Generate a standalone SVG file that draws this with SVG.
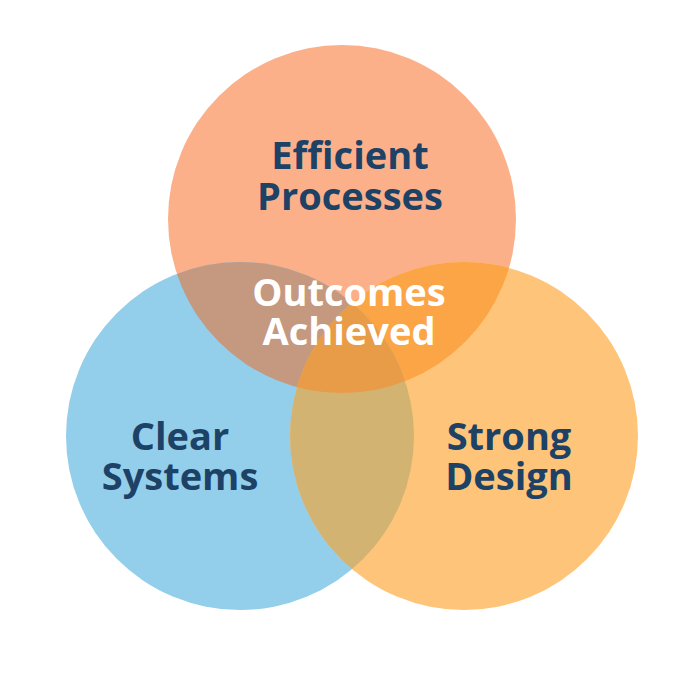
<svg xmlns="http://www.w3.org/2000/svg" width="700" height="700" viewBox="0 0 700 700">
<style>
.lbl{font-family:"Open Sans","Noto Sans","Liberation Sans",sans-serif;font-weight:700;font-size:38px;text-anchor:middle;fill:#1D4266}
.ctr{fill:#FFFFFF}
</style>
<defs>
<clipPath id="clipA"><circle cx="342" cy="219" r="174"/></clipPath>
<clipPath id="clipB"><circle cx="240" cy="436" r="174"/></clipPath>
<clipPath id="clipC"><circle cx="464" cy="436" r="174"/></clipPath>
</defs>
<rect width="700" height="700" fill="#FFFFFF"/>
<g id="circles">
<circle id="circle-efficient" cx="342" cy="219" r="174" fill="#FCB08A"/>
<circle id="circle-clear" cx="240" cy="436" r="174" fill="#93CFEB"/>
<circle id="circle-strong" cx="464" cy="436" r="174" fill="#FEC57A"/>
<circle cx="342" cy="219" r="174" fill="#C59880" clip-path="url(#clipB)"/>
<circle cx="342" cy="219" r="174" fill="#FCA546" clip-path="url(#clipC)"/>
<circle cx="464" cy="436" r="174" fill="#D3B372" clip-path="url(#clipB)"/>
<g clip-path="url(#clipB)"><circle cx="342" cy="219" r="174" fill="#E89C48" clip-path="url(#clipC)"/></g>
</g>
<g id="node-efficient"><text class="lbl" x="350" y="169">Efficient</text><text class="lbl" x="350" y="210">Processes</text></g>
<g id="node-outcomes"><text class="lbl ctr" x="349" y="306">Outcomes</text><text class="lbl ctr" x="349" y="345">Achieved</text></g>
<g id="node-clear"><text class="lbl" x="180" y="450">Clear</text><text class="lbl" x="180" y="490">Systems</text></g>
<g id="node-strong"><text class="lbl" x="509" y="450">Strong</text><text class="lbl" x="509" y="490">Design</text></g>
</svg>
